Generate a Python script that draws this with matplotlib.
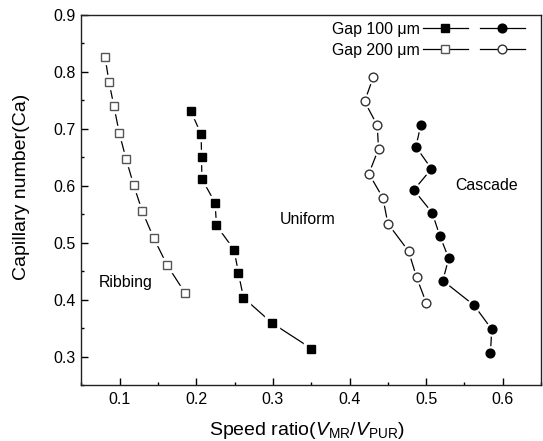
import matplotlib
matplotlib.use('Agg')
import matplotlib.pyplot as plt
from matplotlib.legend_handler import HandlerTuple
from matplotlib.ticker import MultipleLocator

plt.rcParams['font.family'] = ['Liberation Sans', 'DejaVu Sans']
plt.rcParams['mathtext.fontset'] = 'custom'
plt.rcParams['mathtext.rm'] = 'Liberation Sans'
plt.rcParams['mathtext.it'] = 'Liberation Sans:italic'

# Gap 100 um, squares (Ribbing/Uniform boundary)
sq100_x = [0.1928, 0.2063, 0.2068, 0.2072, 0.2245, 0.2263, 0.2493, 0.2550, 0.2615, 0.2988, 0.3502]
sq100_y = [0.7315, 0.6905, 0.6515, 0.6124, 0.5704, 0.5307, 0.4880, 0.4470, 0.4040, 0.3595, 0.3147]
# Gap 200 um, squares
sq200_x = [0.0807, 0.0859, 0.0924, 0.0993, 0.1081, 0.1181, 0.1293, 0.1442, 0.1619, 0.1854]
sq200_y = [0.827, 0.783, 0.740, 0.6935, 0.648, 0.602, 0.556, 0.509, 0.461, 0.412]
# Gap 100 um, circles (Uniform/Cascade boundary)
ci100_x = [0.4931, 0.4866, 0.5070, 0.4840, 0.5079, 0.5179, 0.5296, 0.5218, 0.5627, 0.5857, 0.5840]
ci100_y = [0.7063, 0.669, 0.630, 0.593, 0.553, 0.5126, 0.473, 0.434, 0.3905, 0.3485, 0.3065]
# Gap 200 um, circles
ci200_x = [0.4310, 0.4197, 0.4362, 0.4379, 0.4253, 0.4436, 0.4501, 0.4771, 0.4875, 0.5001]
ci200_y = [0.791, 0.7483, 0.7063, 0.665, 0.6217, 0.579, 0.534, 0.4856, 0.440, 0.3953]

regions = ['Ribbing', 'Uniform', 'Cascade']
region_x = [0.1081, 0.3447, 0.5787]
region_y = [0.4303, 0.541, 0.6012]

fig = plt.figure(figsize=(5.43, 4.41), dpi=100)
ax = fig.add_axes([0.150, 0.126, 0.8463, 0.840])

def series(x, y, marker, filled, edge):
    ax.plot(x, y, '-', color='black', lw=0.9, zorder=2)
    # white halo so the line stops short of each marker
    ax.plot(x, y, ls='none', marker=marker, ms=9.5, mfc='white', mec='white', zorder=3)
    ax.plot(x, y, ls='none', marker=marker, ms=6.3,
            mfc=edge if filled else 'white', mec=edge, mew=1.0, zorder=4)
    h, = ax.plot([], [], '-', color='black', lw=0.9, marker=marker, ms=6.3,
                 mfc=edge if filled else 'white', mec=edge, mew=1.0)
    return h

h1 = series(sq100_x, sq100_y, 's', True, 'black')
h2 = series(sq200_x, sq200_y, 's', False, '#555555')
h3 = series(ci100_x, ci100_y, 'o', True, 'black')
h4 = series(ci200_x, ci200_y, 'o', False, '#333333')

for t, x, y in zip(regions, region_x, region_y):
    ax.text(x, y, t, fontsize=11.4, ha='center', va='center')

leg = ax.legend([(h1, h3), (h2, h4)], ['Gap 100 \u03bcm', 'Gap 200 \u03bcm'],
                handler_map={tuple: HandlerTuple(ndivide=None, pad=0.75)},
                markerfirst=False, frameon=False, fontsize=11.4,
                handlelength=6.45, handletextpad=0.2, labelspacing=0.37,
                borderpad=0, borderaxespad=0, loc='upper right',
                bbox_to_anchor=(525 / 543, 1 - 22 / 441),
                bbox_transform=fig.transFigure)

ax.set_xlim(0.05, 0.65)
ax.set_ylim(0.25, 0.9)
ax.xaxis.set_major_locator(MultipleLocator(0.1))
ax.xaxis.set_minor_locator(MultipleLocator(0.05))
ax.yaxis.set_major_locator(MultipleLocator(0.1))
ax.yaxis.set_minor_locator(MultipleLocator(0.05))
ax.tick_params(which='both', direction='in', top=False, right=False,
               labelsize=11.5, width=1.0)
ax.tick_params(axis='x', which='both', pad=5)
ax.tick_params(axis='y', which='both', pad=4.3)
ax.tick_params(which='major', length=4.8)
ax.tick_params(which='minor', length=2.4)
for s in ax.spines.values():
    s.set_linewidth(1.0)
    s.set_color('#222222')

ax.set_xlabel('Speed ratio($\\mathit{V}_\\mathrm{MR}$/$\\mathit{V}_\\mathrm{PUR}$)', fontsize=14)
ax.set_ylabel('Capillary number(Ca)', fontsize=14)
ax.xaxis.set_label_coords(0.49, -0.093)
ax.yaxis.set_label_coords(-0.112, 0.537)

fig.savefig('out.png', dpi=100)
